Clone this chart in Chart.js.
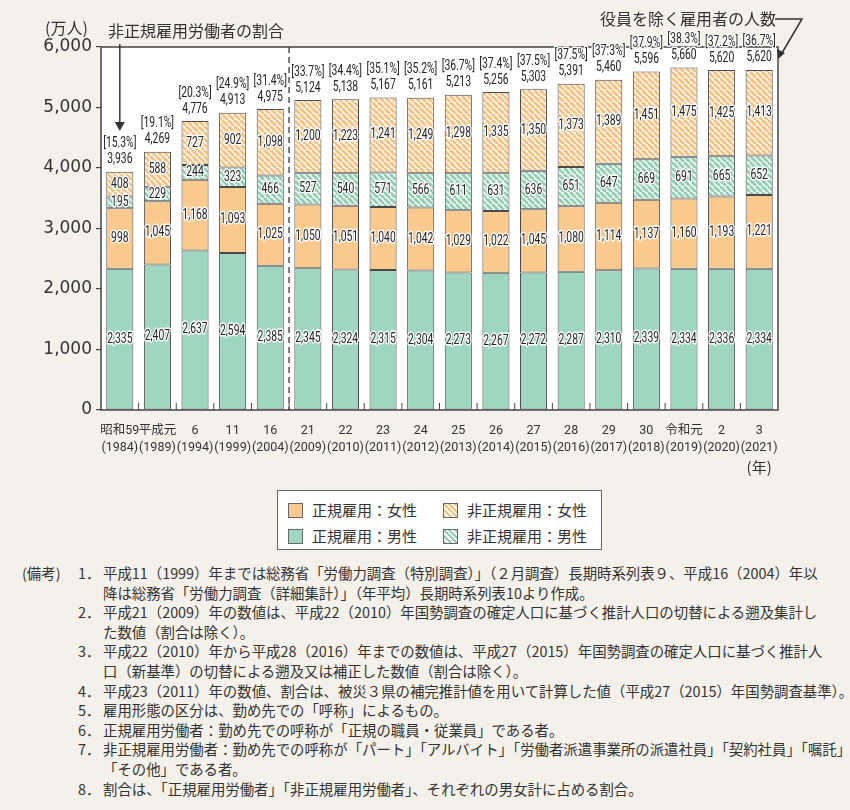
<!DOCTYPE html>
<html lang="ja">
<head>
<meta charset="utf-8">
<script src="https://cdn.jsdelivr.net/npm/chart.js@4.4.0/dist/chart.umd.min.js"></script>
<style>
  body { margin: 0; background: #f4f1ea; }
  #wrap { position: relative; width: 850px; height: 810px; overflow: hidden;
          font-family: 'Noto Sans CJK JP', sans-serif; color: #333; }
  #cv { position: absolute; left: 0; top: 0; }
  #legend { position: absolute; left: 277px; top: 490px; width: 325px; height: 60px;
            background: #fff; border: 1.5px solid #666; box-sizing: border-box;
            display: grid; grid-template-columns: 155px 160px; padding: 6px 0 0 10px; }
  #legend div { font-size: 15px; line-height: 25px; white-space: nowrap; }
  #legend span { display: inline-block; width: 15px; height: 15px; border: 1px solid #666;
                 vertical-align: -2px; margin-right: 9px; box-sizing: border-box; }
  #notes { position: absolute; left: 22px; top: 563px; font-size: 14.4px; line-height: 19.6px;
           color: #333; white-space: nowrap; }
  #notes .h { position: absolute; left: 0; top: 0; }
  #notes .it { position: relative; padding-left: 81px; }
  #notes .n { position: absolute; left: 56px; }
</style>
</head>
<body>
<div id="wrap">
  <canvas id="cv" width="850" height="480"></canvas>
  <div id="legend">
    <div><span style="background:#f9c98d"></span>正規雇用：女性</div>
    <div><span style="background:repeating-linear-gradient(45deg,#f6c283 0 2px,#fff 2px 4px)"></span>非正規雇用：女性</div>
    <div><span style="background:#9fd6c1"></span>正規雇用：男性</div>
    <div><span style="background:repeating-linear-gradient(45deg,#8fcfb8 0 2px,#fff 2px 4px)"></span>非正規雇用：男性</div>
  </div>
  <div id="notes">
    <div class="h">(備考)</div>
    <div class="it"><span class="n">1．</span>平成11（1999）年までは総務省「労働力調査（特別調査）」（２月調査）長期時系列表９、平成16（2004）年以<br>降は総務省「労働力調査（詳細集計）」（年平均）長期時系列表10より作成。</div>
    <div class="it"><span class="n">2．</span>平成21（2009）年の数値は、平成22（2010）年国勢調査の確定人口に基づく推計人口の切替による遡及集計し<br>た数値（割合は除く）。</div>
    <div class="it"><span class="n">3．</span>平成22（2010）年から平成28（2016）年までの数値は、平成27（2015）年国勢調査の確定人口に基づく推計人<br>口（新基準）の切替による遡及又は補正した数値（割合は除く）。</div>
    <div class="it"><span class="n">4．</span>平成23（2011）年の数値、割合は、被災３県の補完推計値を用いて計算した値（平成27（2015）年国勢調査基準）。</div>
    <div class="it"><span class="n">5．</span>雇用形態の区分は、勤め先での「呼称」によるもの。</div>
    <div class="it"><span class="n">6．</span>正規雇用労働者：勤め先での呼称が「正規の職員・従業員」である者。</div>
    <div class="it"><span class="n">7．</span>非正規雇用労働者：勤め先での呼称が「パート」「アルバイト」「労働者派遣事業所の派遣社員」「契約社員」「嘱託」<br>「その他」である者。</div>
    <div class="it"><span class="n">8．</span>割合は、「正規雇用労働者」「非正規雇用労働者」、それぞれの男女計に占める割合。</div>
  </div>
</div>
<script>
// categories (era year / western year)
var eraLabels = ['昭和59', '平成元', '6', '11', '16', '21', '22', '23', '24', '25', '26', '27', '28', '29', '30', '令和元', '2', '3'];
var yearLabels = ['(1984)', '(1989)', '(1994)', '(1999)', '(2004)', '(2009)', '(2010)', '(2011)', '(2012)', '(2013)',
                  '(2014)', '(2015)', '(2016)', '(2017)', '(2018)', '(2019)', '(2020)', '(2021)'];

// 万人
var regularMale = [2335, 2407, 2637, 2594, 2385, 2345, 2324, 2315, 2304, 2273, 2267, 2272, 2287, 2310, 2339, 2334, 2336, 2334];
var regularFemale = [998, 1045, 1168, 1093, 1025, 1050, 1051, 1040, 1042, 1029, 1022, 1045, 1080, 1114, 1137, 1160, 1193, 1221];
var nonRegularMale = [195, 229, 244, 323, 466, 527, 540, 571, 566, 611, 631, 636, 651, 647, 669, 691, 665, 652];
var nonRegularFemale = [408, 588, 727, 902, 1098, 1200, 1223, 1241, 1249, 1298, 1335, 1350, 1373, 1389, 1451, 1475, 1425, 1413];
var totals = [3936, 4269, 4776, 4913, 4975, 5124, 5138, 5167, 5161, 5213, 5256, 5303, 5391, 5460, 5596, 5660, 5620, 5620];
var nonRegularShare = [15.3, 19.1, 20.3, 24.9, 31.4, 33.7, 34.4, 35.1, 35.2, 36.7, 37.4, 37.5, 37.5, 37.3, 37.9, 38.3, 37.2, 36.7];

var yTicks = [0, 1000, 2000, 3000, 4000, 5000, 6000];

var CJK = "'Noto Sans CJK JP', sans-serif";
var ORANGE = '#f9c98d';
var TEAL = '#9fd6c1';

function hatch(color) {
    var s = 6;
    var c = document.createElement('canvas');
    c.width = s; c.height = s;
    var g = c.getContext('2d');
    g.fillStyle = '#fdfaf4';
    g.fillRect(0, 0, s, s);
    g.strokeStyle = color;
    g.lineWidth = 2.9;
    [-s, 0, s].forEach(function(x0) {
        g.beginPath();
        g.moveTo(x0, 0);
        g.lineTo(x0 + s, s);
        g.stroke();
    });
    return g.createPattern(c, 'repeat');
}

function fmt(v) { return v.toLocaleString('en-US'); }

// narrow-looking label: squeeze text horizontally, white halo behind
function narrowText(ctx, txt, x, y) {
    ctx.save();
    ctx.translate(x, y);
    ctx.scale(0.74, 1);
    ctx.lineWidth = 3;
    ctx.strokeStyle = '#fff';
    ctx.lineJoin = 'round';
    ctx.strokeText(txt, 0, 0);
    ctx.fillText(txt, 0, 0);
    ctx.restore();
}

var decor = {
    id: 'decor',
    beforeDatasetsDraw: function(chart) {
        var a = chart.chartArea, ctx = chart.ctx;
        ctx.save();
        ctx.fillStyle = '#fff';
        ctx.fillRect(a.left, a.top, a.right - a.left, a.bottom - a.top);
        ctx.restore();
    },
    afterDatasetsDraw: function(chart) {
        var a = chart.chartArea, ctx = chart.ctx, xs = chart.scales.x;
        ctx.save();
        // frame
        ctx.strokeStyle = '#444';
        ctx.lineWidth = 1.5;
        ctx.strokeRect(a.left, a.top, a.right - a.left, a.bottom - a.top);
        // small category ticks on the base line
        ctx.lineWidth = 1;
        for (var i = 1; i < eraLabels.length; i++) {
            var bx = (xs.getPixelForValue(i - 1) + xs.getPixelForValue(i)) / 2;
            ctx.beginPath();
            ctx.moveTo(bx, a.bottom);
            ctx.lineTo(bx, a.bottom - 7);
            ctx.stroke();
        }
        // dashed break between 2004 and 2009
        var dx = (xs.getPixelForValue(4) + xs.getPixelForValue(5)) / 2;
        ctx.setLineDash([6, 4]);
        ctx.lineWidth = 1.4;
        ctx.beginPath();
        ctx.moveTo(dx, a.top);
        ctx.lineTo(dx, a.bottom);
        ctx.stroke();
        ctx.setLineDash([]);

        // segment values
        ctx.fillStyle = '#222';
        ctx.textAlign = 'center';
        ctx.textBaseline = 'middle';
        ctx.font = '14px Roboto, sans-serif';
        chart.data.datasets.forEach(function(ds, di) {
            chart.getDatasetMeta(di).data.forEach(function(el, j) {
                narrowText(ctx, fmt(ds.data[j]), el.x, (el.y + el.base) / 2);
            });
        });
        // totals and shares on top
        var top = chart.getDatasetMeta(3).data;
        top.forEach(function(el, j) {
            narrowText(ctx, fmt(totals[j]), el.x, el.y - 12);
            narrowText(ctx, '[' + nonRegularShare[j].toFixed(1) + '%]', el.x, el.y - 28);
        });

        // unit + callouts
        ctx.fillStyle = '#333';
        ctx.textAlign = 'left';
        ctx.font = '16px ' + CJK;
        ctx.fillText('(万人)', 45, 28);
        ctx.fillText('非正規雇用労働者の割合', 108, 31);
        ctx.fillText('役員を除く雇用者の人数', 600, 19);

        ctx.strokeStyle = '#333';
        ctx.lineWidth = 1.5;
        var ax = top[0].x;
        ctx.beginPath();
        ctx.moveTo(ax, 44);
        ctx.lineTo(ax, 124);
        ctx.stroke();
        ctx.fillStyle = '#333';
        ctx.beginPath();
        ctx.moveTo(ax - 5, 122);
        ctx.lineTo(ax + 5, 122);
        ctx.lineTo(ax, 131);
        ctx.closePath();
        ctx.fill();

        ctx.beginPath();
        ctx.moveTo(775, 19);
        ctx.lineTo(802, 19);
        ctx.lineTo(782, 53);
        ctx.stroke();
        ctx.beginPath();
        ctx.moveTo(777, 49);
        ctx.lineTo(785, 53);
        ctx.lineTo(778, 59);
        ctx.closePath();
        ctx.fill();

        ctx.font = '15px ' + CJK;
        ctx.textAlign = 'center';
        ctx.fillText('(年)', top[top.length - 1].x, 467);
        ctx.restore();
    }
};

var labels = eraLabels.map(function(e, i) { return [e, yearLabels[i]]; });

function ds(label, data, bg) {
    return {
        label: label,
        data: data,
        backgroundColor: bg,
        borderColor: '#4a4a4a',
        borderWidth: 1,
        borderSkipped: false,
        categoryPercentage: 1,
        barPercentage: 0.72
    };
}

new Chart(document.getElementById('cv').getContext('2d'), {
    type: 'bar',
    data: {
        labels: labels,
        datasets: [
            ds('正規雇用：男性', regularMale, TEAL),
            ds('正規雇用：女性', regularFemale, ORANGE),
            ds('非正規雇用：男性', nonRegularMale, hatch('#8fcfb8')),
            ds('非正規雇用：女性', nonRegularFemale, hatch('#f6c283'))
        ]
    },
    options: {
        responsive: false,
        animation: false,
        layout: { padding: { top: 47, right: 72, left: 0, bottom: 0 } },
        plugins: { legend: { display: false }, tooltip: { enabled: false } },
        scales: {
            x: {
                stacked: true,
                grid: { display: false },
                border: { display: false },
                ticks: {
                    color: '#333',
                    padding: 5,
                    maxRotation: 0,
                    autoSkip: false,
                    font: { family: "Roboto, 'Noto Sans CJK JP', sans-serif", size: 12.5, lineHeight: 1.3 }
                },
                afterFit: function(s) { s.height = 70; }
            },
            y: {
                stacked: true,
                min: 0,
                max: 6000,
                afterBuildTicks: function(s) { s.ticks = yTicks.map(function(v) { return { value: v }; }); },
                grid: { drawOnChartArea: false, tickLength: 5, color: '#444', lineWidth: 1.2 },
                border: { display: false },
                ticks: {
                    color: '#333',
                    padding: 4,
                    font: { family: "'DejaVu Sans', sans-serif", size: 17 },
                    callback: function(v) { return fmt(v); }
                },
                afterFit: function(s) { s.width = 101; }
            }
        }
    },
    plugins: [decor]
});
</script>
</body>
</html>
